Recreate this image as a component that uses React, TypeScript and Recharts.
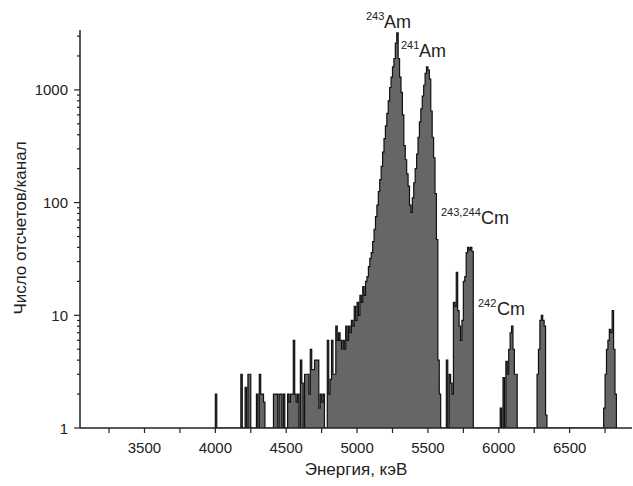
import { ComposedChart, Area, XAxis, YAxis } from "recharts";

// channel width of the spectrum, keV
const CH = 10;

// counts per channel, each block starts at the given energy (keV)
const lowStart = 3990;
const lowCounts = [1, 2, 1];

const noiseStart = 4170;
const noiseCounts = [
  1, 3, 1, 1, 2.3, 1, 3, 3, 1, 1, 1, 1, 2, 1, 3, 2, 2, 1.7, 1, 1,
  1, 1, 1, 1, 2, 2, 2, 1, 2, 2, 1, 2, 1, 1, 2, 1.7, 2, 2, 6, 2,
  1.7, 2, 1, 4, 2.5, 1, 3, 3, 3, 2, 5, 3.3, 3.3, 4, 4, 4, 1.5, 2, 1.7, 2,
  1, 1, 6, 2, 2.7, 6, 3, 3, 8, 6,
];

const amStart = 4870;
const amCounts = [
  7, 6, 5, 6, 5, 8, 6, 8, 7, 9, 8, 12, 9, 13, 10, 15, 13, 18, 15, 20,
  22, 27, 32, 36, 45, 58, 75, 95, 125, 160, 210, 280, 370, 480, 620, 800, 1050, 1300, 1600, 1900,
  2600, 3200, 1900, 1300, 950, 600, 320, 240, 180, 140, 95, 82, 110, 150, 200, 270, 380, 520, 680, 880,
  1100, 1400, 1600, 1500, 1250, 650, 380, 250, 120, 47, 4, 2, 1,
];

const cm243Start = 5620;
const cm243Counts = [1, 4, 1, 3, 2.5, 2, 13, 12, 24, 11, 8, 6, 9, 20, 22, 36, 40, 38, 40, 37, 1];

const cm242Start = 6000;
const cm242Counts = [1, 1.5, 1, 2.8, 1, 3.9, 3, 5, 7, 8, 5, 3, 3, 1];

const peak6300Start = 6260;
const peak6300Counts = [1, 3, 5, 9, 10, 9, 8, 1.3, 1];

const peak6780Start = 6730;
const peak6780Counts = [1, 1.5, 3, 5, 6, 7.5, 7, 11, 5, 2, 1];

const xTicks = [3250, 3500, 3750, 4000, 4250, 4500, 4750, 5000, 5250, 5500, 5750, 6000, 6250, 6500, 6750];
const xLabels = [3500, 4000, 4500, 5000, 5500, 6000, 6500];
const yTicks = [
  1, 2, 3, 4, 5, 6, 7, 8, 9,
  10, 20, 30, 40, 50, 60, 70, 80, 90,
  100, 200, 300, 400, 500, 600, 700, 800, 900,
  1000, 2000, 3000,
];
const yLabels = [1, 10, 100, 1000];

const blocks: [number, number[]][] = [
  [lowStart, lowCounts],
  [noiseStart, noiseCounts],
  [amStart, amCounts],
  [cm243Start, cm243Counts],
  [cm242Start, cm242Counts],
  [peak6300Start, peak6300Counts],
  [peak6780Start, peak6780Counts],
];

const data = blocks.flatMap(([start, counts]) =>
  counts.map((c, i) => ({ e: start + i * CH, c }))
);

const FONT = "'Liberation Sans', Arial, sans-serif";
const INK = "#222";

const XTick = (props: any) => {
  const { x, y, payload } = props;
  const major = xLabels.includes(payload.value);
  return (
    <g>
      <line x1={x} y1={y} x2={x} y2={y + 5} stroke={INK} strokeWidth={1.2} />
      {major && (
        <text x={x} y={y + 25} textAnchor="middle" fontSize={15} fill={INK} fontFamily={FONT}>
          {payload.value}
        </text>
      )}
    </g>
  );
};

const YTick = (props: any) => {
  const { x, y, payload } = props;
  const major = yLabels.includes(payload.value);
  return (
    <g>
      <line x1={x - (major ? 6 : 3)} y1={y} x2={x} y2={y} stroke={INK} strokeWidth={1.2} />
      {major && (
        <text x={x - 12} y={y + 5.5} textAnchor="end" fontSize={15} fill={INK} fontFamily={FONT}>
          {payload.value}
        </text>
      )}
    </g>
  );
};

export default function App() {
  return (
    <div style={{ position: "absolute", left: 0, top: 0, width: 633, height: 486, background: "#fff" }}>
      <ComposedChart
        width={633}
        height={486}
        data={data}
        margin={{ top: 30, right: 1, left: 0, bottom: 0 }}
      >
        <XAxis
          dataKey="e"
          type="number"
          domain={[3045, 6940]}
          allowDataOverflow
          ticks={xTicks}
          interval={0}
          tick={<XTick />}
          tickLine={false}
          tickSize={0}
          tickMargin={0}
          height={58}
          axisLine={{ stroke: INK, strokeWidth: 1.5 }}
        />
        <YAxis
          scale="log"
          type="number"
          domain={[1, 3400]}
          allowDataOverflow
          ticks={yTicks}
          interval={0}
          tick={<YTick />}
          tickLine={false}
          tickSize={0}
          tickMargin={0}
          width={80}
          axisLine={{ stroke: INK, strokeWidth: 1.5 }}
        />
        <Area
          type="stepAfter"
          dataKey="c"
          baseValue={1}
          fill="#666"
          fillOpacity={1}
          stroke="#111"
          strokeWidth={1.2}
          dot={false}
          activeDot={false}
          isAnimationActive={false}
        />
      </ComposedChart>
      <svg
        width={633}
        height={486}
        style={{ position: "absolute", left: 0, top: 0, pointerEvents: "none" }}
        fontFamily={FONT}
        fill={INK}
      >
        <text x={356} y={475} textAnchor="middle" fontSize={17}>
          Энергия, кэВ
        </text>
        <text x={26} y={228} textAnchor="middle" fontSize={17} transform="rotate(-90 26 228)">
          Число отсчетов/канал
        </text>
        <text x={366} y={20} fontSize={11}>243</text>
        <text x={384} y={28} fontSize={18}>Am</text>
        <text x={401} y={49} fontSize={11}>241</text>
        <text x={419} y={57} fontSize={18}>Am</text>
        <text x={441} y={216} fontSize={11}>243,244</text>
        <text x={481} y={224} fontSize={18}>Cm</text>
        <text x={478} y={307} fontSize={11}>242</text>
        <text x={497} y={315} fontSize={18}>Cm</text>
      </svg>
    </div>
  );
}
